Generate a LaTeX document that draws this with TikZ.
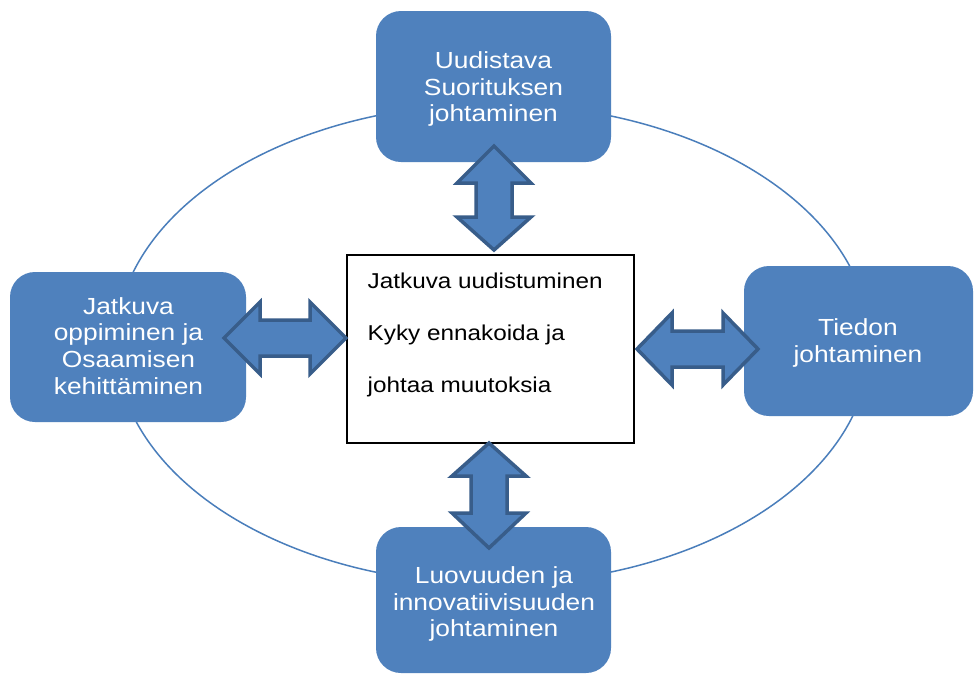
\documentclass[tikz,border=0pt]{standalone}
\usepackage{fontspec}
\setmainfont{Liberation Sans}
\newfontfamily\diagfont[FakeStretch=1.13]{Liberation Sans}
\definecolor{boxblue}{HTML}{4F81BD}
\definecolor{arrowline}{HTML}{385D8A}
\definecolor{ringblue}{HTML}{4A7EBB}
\begin{document}
\begin{tikzpicture}[x=1pt,y=-1pt,
  bluebox/.style={draw=none, fill=boxblue, rounded corners=25pt, inner sep=0pt},
  boxtext/.style={text=white, align=center, inner sep=0pt, font=\diagfont\fontsize{23.3pt}{26.8pt}\selectfont},
  centertext/.style={text=black, align=left, inner sep=0pt, font=\diagfont\fontsize{21.5pt}{52pt}\selectfont},
  dblarrow/.style={fill=boxblue, draw=arrowline, line width=3.5pt, line join=miter},
  ring/.style={draw=ringblue, line width=1.5pt}]
\useasboundingbox (0,0) rectangle (974,673);
\fill[white] (0,0) rectangle (974,673);
% ring behind the boxes
\draw[ring] (493,344) ellipse [x radius=377pt, y radius=240pt];
% boxes
\node[bluebox, minimum width=235pt, minimum height=151pt] (topbox) at (493.5,86.5) {};
\node[bluebox, minimum width=236pt, minimum height=150pt] (leftbox) at (128,347) {};
\node[bluebox, minimum width=229pt, minimum height=150pt] (rightbox) at (858.5,341) {};
\node[bluebox, minimum width=235pt, minimum height=146pt] (bottombox) at (493.5,600) {};
\node[draw=black, line width=1.2pt, fill=white, minimum width=287pt, minimum height=188pt, inner sep=0pt] (center) at (490.5,349) {};
% double arrows
\draw[dblarrow] (494,146) -- (531,183) -- (512,183) -- (512,217) -- (531,217) -- (494,250) -- (457,217) -- (476,217) -- (476,183) -- (457,183) -- cycle;
\draw[dblarrow] (224,338) -- (260,302) -- (260,320) -- (310,320) -- (310,302) -- (346,338) -- (310,374) -- (310,356) -- (260,356) -- (260,374) -- cycle;
\draw[dblarrow] (637,349) -- (672,313) -- (672,331) -- (723,331) -- (723,313) -- (758,349) -- (723,385) -- (723,367) -- (672,367) -- (672,385) -- cycle;
\draw[dblarrow] (489,443) -- (526,476) -- (507,476) -- (507,513) -- (526,513) -- (489,548) -- (452,513) -- (471,513) -- (471,476) -- (452,476) -- cycle;
% texts
\node[boxtext] (toptext) at (493.5,89) {Uudistava\\Suorituksen\\johtaminen};
\node[boxtext] (lefttext) at (128.5,346) {Jatkuva\\oppiminen ja\\Osaamisen\\kehittäminen};
\node[boxtext] (righttext) at (858,343) {Tiedon\\johtaminen};
\node[boxtext] (bottomtext) at (494,604) {Luovuuden ja\\innovatiivisuuden\\johtaminen};
\node[centertext, anchor=north west] (ctext) at (367.5,272.5) {Jatkuva uudistuminen\\Kyky ennakoida ja\\johtaa muutoksia};
\end{tikzpicture}
\end{document}
